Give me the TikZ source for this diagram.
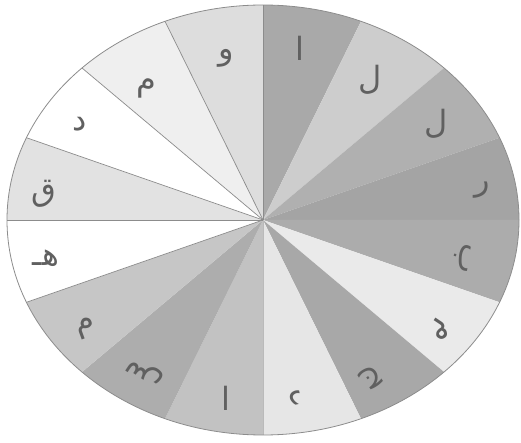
\documentclass[tikz,border=0pt]{standalone}
\usepackage{fontspec}
\newfontfamily\arabicfont[Script=Arabic]{DejaVu Sans}
\TeXXeTstate=1
\definecolor{sA}{HTML}{A9A9A9}
\definecolor{sB}{HTML}{CDCDCD}
\definecolor{sC}{HTML}{B0B0B0}
\definecolor{sD}{HTML}{A4A4A4}
\definecolor{sE}{HTML}{ACACAC}
\definecolor{sF}{HTML}{EAEAEA}
\definecolor{sG}{HTML}{A8A8A8}
\definecolor{sH}{HTML}{E6E6E6}
\definecolor{sI}{HTML}{C2C2C2}
\definecolor{sJ}{HTML}{ADADAD}
\definecolor{sK}{HTML}{C6C6C6}
\definecolor{sL}{HTML}{FFFFFF}
\definecolor{sM}{HTML}{E2E2E2}
\definecolor{sN}{HTML}{FFFFFF}
\definecolor{sO}{HTML}{EFEFEF}
\definecolor{sP}{HTML}{DDDDDD}
\definecolor{ink}{HTML}{606060}
\definecolor{rim}{HTML}{8C8C8C}
\begin{document}
\begin{tikzpicture}[x=1pt,y=-1pt,
  letter/.style={font=\arabicfont\fontsize{32}{32}\selectfont, text=ink, inner sep=0pt},
  divider/.style={draw=rim, line width=0.7pt}]
\useasboundingbox (0,0) rectangle (521,443);
\coordinate (O) at (263,220);
% sectors (parametric angles, 22.5 deg each)
\foreach \a/\c in {67.5/sA,45/sB,22.5/sC,0/sD,-22.5/sE,-45/sF,-67.5/sG,-90/sH,-112.5/sI,-135/sJ,-157.5/sK,180/sL,157.5/sM,135/sN,112.5/sO,90/sP}{
  \fill[\c] (O) -- plot[domain=\a:\a+22.5, samples=24] ({263+256*cos(\x)},{220-215*sin(\x)}) -- cycle;
}
% visible dividing lines
\foreach \a in {90,112.5,135,157.5,180,202.5}{
  \draw[divider] (O) -- ({263+256*cos(\a)},{220-215*sin(\a)});
}
\draw[rim!60, line width=0.5pt] (O) -- ({263+256*cos(-90)},{220-215*sin(-90)});
% rim
\draw[rim, line width=0.8pt] (O) ellipse [x radius=256, y radius=215];
% letters
\node[letter] (l1) at (300,48) {\beginR ا\endR};
\node[letter] (l2) at (370,80) {\beginR ل\endR};
\node[letter] (l3) at (436,124) {\beginR ل\endR};
\node[letter] (l4) at (482,190) {\beginR ر\endR};
\node[letter, rotate=-101.25] (l5) at (462,258) {\beginR ب\endR};
\node[letter, rotate=-123.75] (l6) at (440,330) {\beginR م\endR};
\node[letter, rotate=-146.25] (l7) at (372,378) {\beginR ج\endR};
\node[letter, rotate=-168.75] (l8) at (296,398) {\beginR د\endR};
\node[letter] (l9) at (226,398) {\beginR ا\endR};
\node[letter, rotate=146.25] (l10) at (145,372) {\beginR س\endR};
\node[letter, rotate=20] (l11) at (86,328) {\beginR م\endR};
\node[letter] (l12) at (46,258) {\beginR هـ\endR};
\node[letter] (l13) at (44,194) {\beginR ق\endR};
\node[letter] (l14) at (80,124) {\beginR د\endR};
\node[letter] (l15) at (146,88) {\beginR م\endR};
\node[letter] (l16) at (226,58) {\beginR و\endR};
\end{tikzpicture}
\end{document}
